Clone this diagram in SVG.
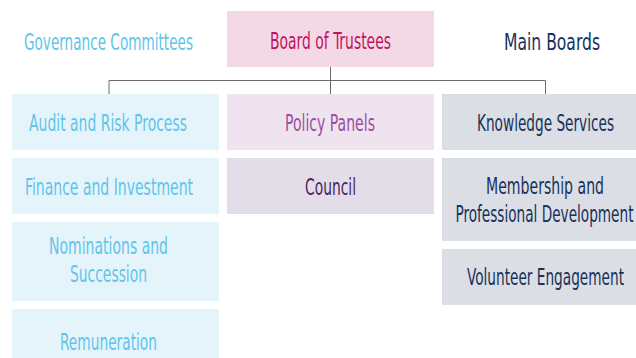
<svg xmlns="http://www.w3.org/2000/svg" width="636" height="358" viewBox="0 0 636 358">
<style>
text{font-family:"Liberation Sans Narrow","DejaVu Sans Condensed","Liberation Sans",sans-serif;font-size:22.5px;text-anchor:middle}
.gc rect{fill:#e5f4fa}.gc text{fill:#62c4ea}
.bt rect{fill:#f3d9e6}.bt text{fill:#c2135f}
.pp rect{fill:#efe3f0}.pp text{fill:#9c4f9f}
.co rect{fill:#e3dde8}.co text{fill:#4a2564}
.mb rect{fill:#dbdfe5}.mb text{fill:#17325a}
.conn{stroke:#6b6b6b;stroke-width:1;fill:none}
</style>
<rect width="636" height="358" fill="#ffffff"/>
<g id="connectors">
<path class="conn" d="M330.5 67V80.5M109 94V80.5H545.5V94M330.5 80.5V94"/>
</g>
<g id="governance-committees" class="gc"><text x="108.5" y="49.5" textLength="169" lengthAdjust="spacingAndGlyphs">Governance Committees</text></g>
<g id="board-of-trustees" class="bt"><rect x="227" y="11" width="207" height="56"/><text x="330.5" y="48.5" textLength="121" lengthAdjust="spacingAndGlyphs">Board of Trustees</text></g>
<g id="main-boards" class="mb"><text x="552" y="49.5" textLength="96" lengthAdjust="spacingAndGlyphs">Main Boards</text></g>
<g id="audit" class="gc"><rect x="12" y="94" width="207" height="56"/><text x="108" y="130.5" textLength="158" lengthAdjust="spacingAndGlyphs">Audit and Risk Process</text></g>
<g id="finance" class="gc"><rect x="12" y="158" width="207" height="56"/><text x="109" y="194.5" textLength="168" lengthAdjust="spacingAndGlyphs">Finance and Investment</text></g>
<g id="nominations" class="gc"><rect x="12" y="222" width="207" height="79"/><text x="108.5" y="253.5" textLength="119" lengthAdjust="spacingAndGlyphs">Nominations and</text><text x="108.5" y="282" textLength="77" lengthAdjust="spacingAndGlyphs">Succession</text></g>
<g id="remuneration" class="gc"><rect x="12" y="309" width="207" height="49"/><text x="108.5" y="349.5" textLength="97" lengthAdjust="spacingAndGlyphs">Remuneration</text></g>
<g id="policy-panels" class="pp"><rect x="227" y="94" width="207" height="56"/><text x="330" y="130.5" textLength="90" lengthAdjust="spacingAndGlyphs">Policy Panels</text></g>
<g id="council" class="co"><rect x="227" y="158" width="207" height="56"/><text x="330.5" y="194.5" textLength="51" lengthAdjust="spacingAndGlyphs">Council</text></g>
<g id="knowledge-services" class="mb"><rect x="442" y="94" width="194" height="56"/><text x="545.5" y="130.5" textLength="137" lengthAdjust="spacingAndGlyphs">Knowledge Services</text></g>
<g id="membership" class="mb"><rect x="442" y="158" width="194" height="83"/><text x="545" y="193.5" textLength="118" lengthAdjust="spacingAndGlyphs">Membership and</text><text x="544.5" y="221.5" textLength="178" lengthAdjust="spacingAndGlyphs">Professional Development</text></g>
<g id="volunteer" class="mb"><rect x="442" y="249" width="194" height="56"/><text x="545.5" y="284.5" textLength="157" lengthAdjust="spacingAndGlyphs">Volunteer Engagement</text></g>
</svg>
